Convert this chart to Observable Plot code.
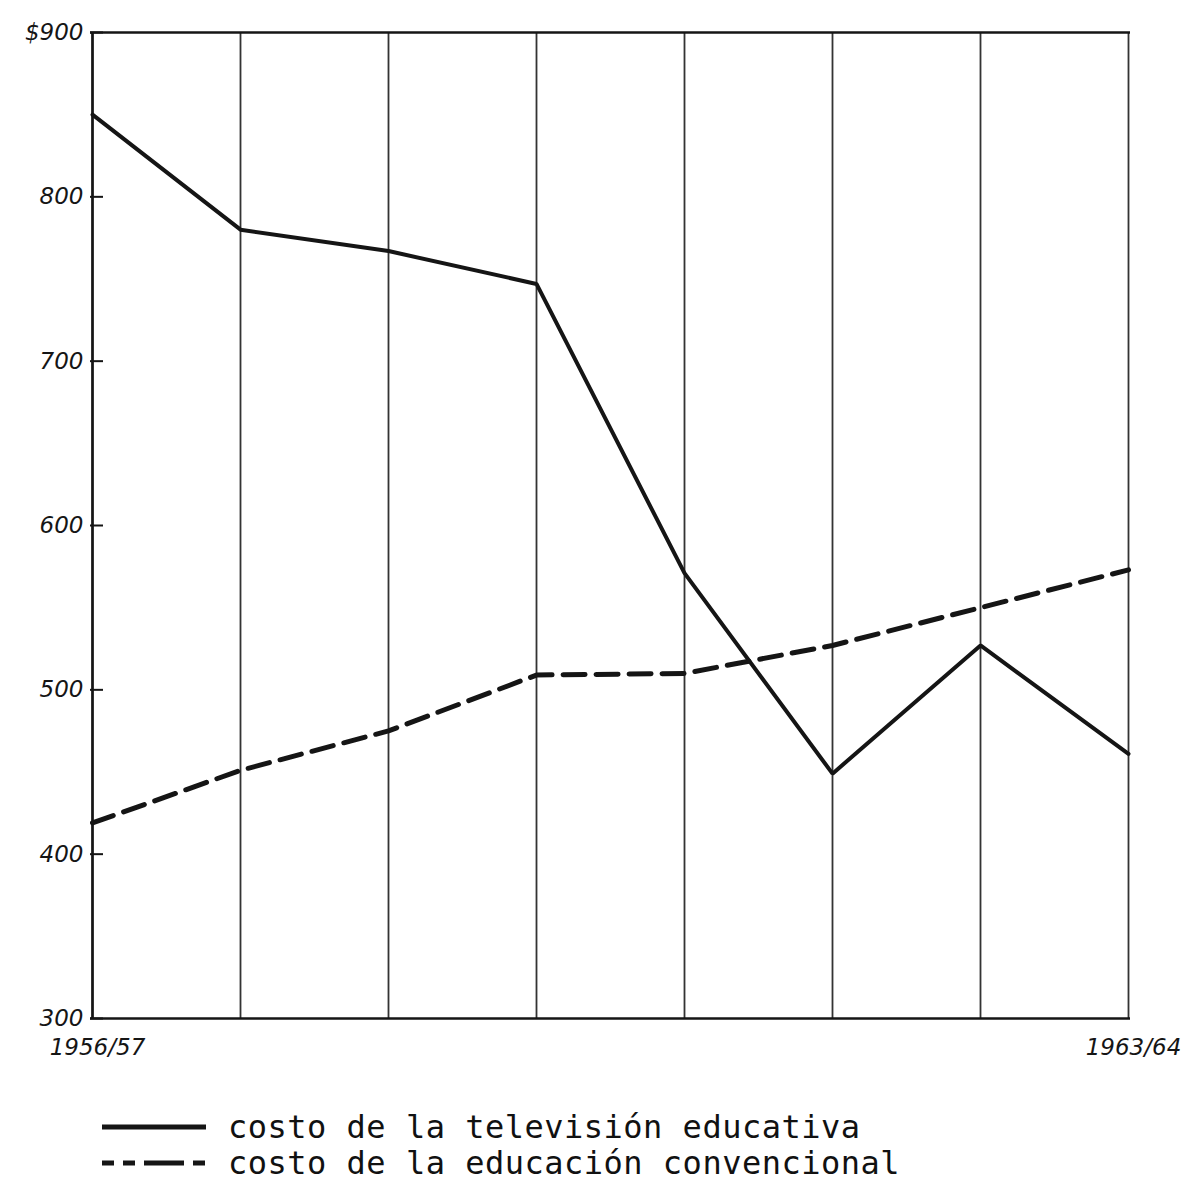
<!DOCTYPE html>
<html>
<head>
<meta charset="utf-8">
<script src="https://cdn.jsdelivr.net/npm/d3@7"></script>
<script src="https://cdn.jsdelivr.net/npm/@observablehq/plot@0.6"></script>
<style>
  html, body { margin: 0; padding: 0; background: #fff; overflow: hidden; }
  #chart svg { display: block; }
  .legend { margin-top: 24px; font-family: "DejaVu Sans Mono", "Liberation Mono", monospace; font-size: 32px; color: #111; }
  .legend .row { display: flex; align-items: center; height: 36px; line-height: 36px; }
  .legend svg { margin-left: 100px; width: 108px; height: 12px; flex: none; }
  .legend span { margin-left: 20px; white-space: pre; letter-spacing: 0.5px; }
</style>
</head>
<body>
<div id="chart"></div>
<div class="legend" id="legend"></div>
<script>
const years = ["1956/57", "1957/58", "1958/59", "1959/60", "1960/61", "1961/62", "1962/63", "1963/64"];
const tvCost = [850, 780, 767, 747, 571, 449, 527, 461];
const convCost = [419, 451, 475, 509, 510, 527, 550, 573];
const yTicks = [300, 400, 500, 600, 700, 800, 900];
const xLabels = ["1956/57", "1963/64"];
const seriesNames = ["costo de la televisión educativa", "costo de la educación convencional"];

const tvRows = years.map((year, i) => ({year, value: tvCost[i]}));
const convRows = years.map((year, i) => ({year, value: convCost[i]}));

const ink = "#151515";
const labelFont = {fontFamily: "DejaVu Sans, sans-serif", fontSize: 23, fontStyle: "italic", fill: ink};

const chart = Plot.plot({
  width: 1189,
  height: 1085,
  marginLeft: 90,
  marginRight: 59,
  marginTop: 32,
  marginBottom: 67,
  style: {fontSize: "23px"},
  x: {type: "point", domain: years, padding: 0, label: null},
  y: {domain: [300, 900], label: null},
  marks: [
    Plot.ruleX(years, {stroke: "#333", strokeWidth: 1.8}),
    Plot.ruleY([yTicks[0], yTicks[yTicks.length - 1]], {stroke: ink, strokeWidth: 2.6}),
    Plot.ruleX([years[0]], {stroke: ink, strokeWidth: 2.6}),
    Plot.axisY({ticks: yTicks, tickSize: 13, dx: 13, text: null, label: null, stroke: ink, strokeWidth: 2}),
    Plot.axisY({ticks: yTicks, tickSize: 0, tickPadding: 7, label: null,
      tickFormat: d => d === 900 ? "$900" : String(d), ...labelFont}),
    Plot.axisX({ticks: xLabels, tickSize: 0, tickPadding: 20, label: null, dx: 5, ...labelFont}),
    Plot.line(tvRows, {x: "year", y: "value", stroke: ink, strokeWidth: 4, strokeLinejoin: "miter"}),
    Plot.line(convRows, {x: "year", y: "value", stroke: ink, strokeWidth: 5, strokeDasharray: "22,11"})
  ]
});
document.getElementById("chart").appendChild(chart);

const legend = document.getElementById("legend");
const styles = [
  {dash: null, width: 5},
  {dash: "12,9,12,9,28,0", width: 5}
];
seriesNames.forEach((name, i) => {
  const row = document.createElement("div");
  row.className = "row";
  const dashAttr = styles[i].dash ? ` stroke-dasharray="${styles[i].dash}"` : "";
  row.innerHTML = `<svg viewBox="0 0 108 12"><line x1="2" x2="106" y1="6" y2="6" stroke="${ink}" stroke-width="${styles[i].width}"${dashAttr}/></svg>`;
  const span = document.createElement("span");
  span.textContent = name;
  row.appendChild(span);
  legend.appendChild(row);
});
</script>
</body>
</html>
